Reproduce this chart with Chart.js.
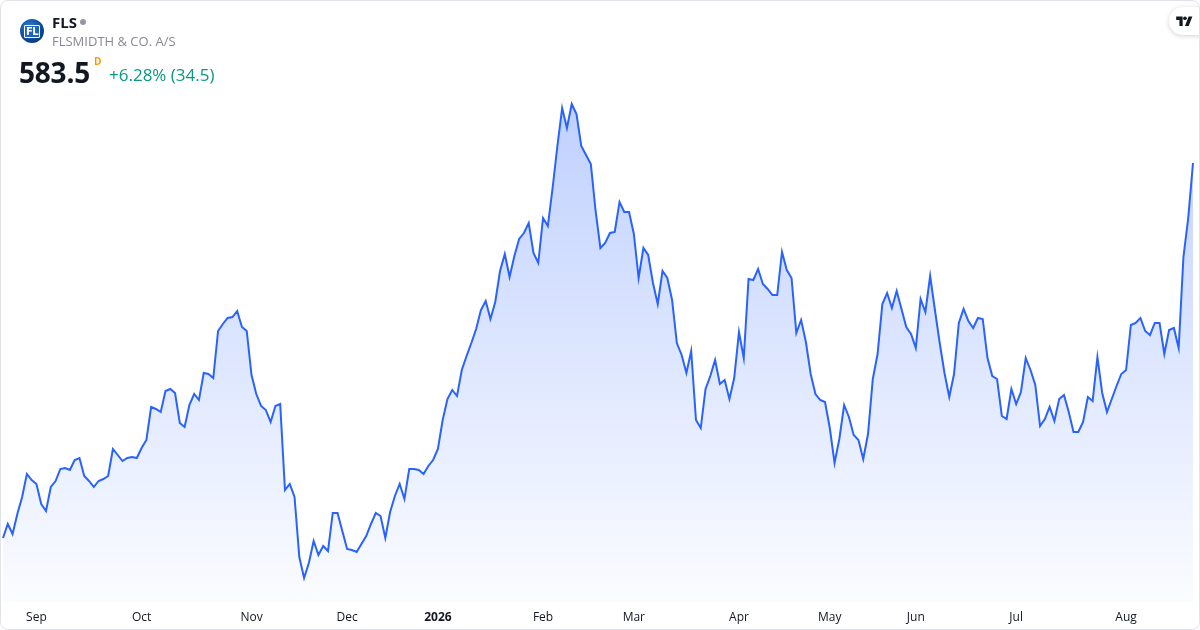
<!DOCTYPE html>
<html>
<head>
<meta charset="utf-8">
<script src="https://cdn.jsdelivr.net/npm/chart.js@4.4.1/dist/chart.umd.min.js"></script>
<style>
  html, body { margin: 0; padding: 0; background: #ffffff; }
  body { width: 1200px; height: 630px; position: relative; overflow: hidden; font-family: "Open Sans", "Noto Sans", sans-serif; }
  #card { position: absolute; left: 0; top: 0; width: 1200px; height: 630px; box-sizing: border-box; border: 1px solid #e0e3eb; border-radius: 8px; overflow: hidden; }
  #chartWrap { position: absolute; left: 0; top: 0; width: 1200px; height: 630px; }
  #logo { position: absolute; left: 19px; top: 18px; width: 24px; height: 24px; border-radius: 50%;
          background: radial-gradient(circle at 40% 35%, #2f7fd6 0%, #0f4a9a 55%, #08275a 100%);
          color: #fff; font: 700 10px "DejaVu Sans", sans-serif; display: flex; align-items: center; justify-content: center; letter-spacing: -0.5px; }
  #logo span { background: #1d63b8; padding: 0 1px; line-height: 11px; border: 1px solid #fff; border-radius: 1px; }
  #sym { position: absolute; left: 51px; top: 11px; font: 700 15px "Open Sans", sans-serif; color: #131722; }
  #dot { position: absolute; left: 79px; top: 18px; width: 6px; height: 6px; border-radius: 50%; background: #9598a1; }
  #name { position: absolute; left: 51px; top: 31px; font: 400 13px "Open Sans", sans-serif; color: #868993; letter-spacing: 0px; }
  #price { position: absolute; left: 18px; top: 52px; font: 700 28px "Open Sans", sans-serif; color: #131722; letter-spacing: -0.2px; }
  #dmark { position: absolute; left: 93px; top: 53px; font: 700 10px "Open Sans", sans-serif; color: #ff9800; }
  #chg { position: absolute; left: 108px; top: 62px; font: 400 17px "Open Sans", sans-serif; color: #089981; }
  #tv { position: absolute; left: 1168px; top: 6px; width: 44px; height: 28px; border-radius: 14px; background: #fff;
        box-shadow: 0 1px 5px rgba(0,0,0,0.18); }
  #tv svg { position: absolute; left: 7px; top: 8px; }
</style>
</head>
<body>
<div id="card">
  <div id="chartWrap"><canvas id="c" width="1200" height="630"></canvas></div>
  <div id="logo"><span>FL</span></div>
  <div id="sym">FLS</div>
  <div id="dot"></div>
  <div id="name">FLSMIDTH &amp; CO. A/S</div>
  <div id="price">583.5</div>
  <div id="dmark">D</div>
  <div id="chg">+6.28% (34.5)</div>
  <div id="tv"><svg width="17" height="12" viewBox="0 0 36 26"><path d="M14 24H7V11H0V3h14v21z" fill="#131722"/><path d="M27 24h-8l8-21h8l-8 21z" fill="#131722"/><circle cx="19" cy="7" r="4" fill="#131722"/></svg></div>
</div>
<script>
// Daily closing prices (approx. Sep 2025 – Aug 2026)
const prices = [
  396, 403, 398, 408, 416.5, 428, 425, 423, 413, 409.5, 421.5, 424.5, 430.5, 431, 430, 435, 436, 427, 424.5, 421.5,
  424.5, 425.5, 427, 440.5, 437.5, 434.5, 436, 436.5, 436, 441, 445, 461.5, 460.5, 459, 469.5, 470.5, 468.5, 453.5, 451.5, 462.5,
  468, 465,
  478.5, 478, 476, 499.5, 503, 506, 506.5, 509.5, 501.5, 499.5, 477.5, 468, 462, 460, 454, 462, 463, 420, 423, 416.5,
  386.5, 376, 383.5, 394.5, 387.5, 392, 389.5, 408.5, 408.5, 399.5, 390.5, 390, 389, 393, 397, 403, 408.5, 407, 396, 409,
  417, 423,
  415.5, 430.5, 430.5, 430, 428, 432, 435, 440.5, 455, 465.5, 470, 467, 480, 487, 493.5, 500.5, 510, 514.5, 505.5, 514,
  529.5, 538, 526.5, 537, 545.5, 548.5, 553.5, 538.5, 533.5, 556, 552, 571, 592, 611, 601, 613, 608, 592, 587.5, 583,
  559.5, 541,
  543.5, 548.5, 549, 564, 559, 559, 548, 526, 541, 537.5, 523.5, 513, 529.5, 526, 515, 493.5, 487.5, 478.5, 489.5, 455,
  451, 470.5, 477, 485, 473, 475, 465.5, 476, 499, 486, 525.5, 525, 530.5, 523, 520.5, 517.5, 517.5, 539, 530, 526,
  498.5, 505,
  494, 478, 468, 465, 464, 451, 433.5, 445.5, 462.5, 456.5, 447.5, 445, 435.5, 448, 475.5, 488, 513, 518.5, 511, 519.5,
  510.5, 501.5, 498, 491, 515.5, 509, 527, 510, 493.5, 478.5, 466.5, 478, 503.5, 510.5, 504.5, 501, 506, 505.5, 486, 477,
  475.5, 457,
  455.5, 470.5, 463, 469, 486, 480, 472.5, 452, 455.5, 461.5, 454.5, 465.5, 467.5, 459, 449, 449, 454, 466.5, 464.5, 486.5,
  468.5, 459, 465.5, 472, 478, 480, 502.5, 503.5, 506, 499.5, 497.5, 503.5, 503.5, 488, 500, 501, 491, 536.5, 556, 583.5
];

// Month tick labels and the trading-day index where each month starts
const tickLabels = ["Sep", "Oct", "Nov", "Dec", "2026", "Feb", "Mar", "Apr", "May", "Jun", "Jul", "Aug"];
const tickIndex  = [7, 29, 52, 72, 91, 113, 132, 154, 173, 191, 212, 235];

const yMin = 364;
const yMax = 619.5;

const categories = prices.map((_, i) => i);
const tickMap = {};
tickIndex.forEach((idx, k) => { tickMap[idx] = tickLabels[k]; });

const ctx = document.getElementById('c').getContext('2d');
new Chart(ctx, {
  type: 'line',
  data: {
    labels: categories,
    datasets: [{
      data: prices,
      borderColor: '#2962ff',
      borderWidth: 2,
      pointRadius: 0,
      tension: 0,
      fill: 'start',
      backgroundColor: (context) => {
        const chart = context.chart;
        const area = chart.chartArea;
        if (!area) return 'rgba(41,98,255,0.1)';
        const g = chart.ctx.createLinearGradient(0, area.top, 0, area.bottom);
        g.addColorStop(0, 'rgba(41,98,255,0.30)');
        g.addColorStop(1, 'rgba(41,98,255,0.02)');
        return g;
      }
    }]
  },
  options: {
    responsive: false,
    animation: false,
    devicePixelRatio: 1,
    layout: { padding: { left: 2, right: 8, top: 90, bottom: 0 } },
    plugins: { legend: { display: false }, tooltip: { enabled: false } },
    scales: {
      y: { display: false, min: yMin, max: yMax },
      x: {
        offset: false,
        grid: { display: false, drawTicks: false },
        border: { display: false },
        afterFit: (scale) => { scale.height = 29; scale.paddingLeft = 0; scale.paddingRight = 0; },
        ticks: {
          autoSkip: false,
          maxRotation: 0,
          minRotation: 0,
          padding: 8,
          color: '#131722',
          font: (c) => ({
            family: '"Open Sans", sans-serif',
            size: 12,
            weight: (c.tick && c.tick.label === '2026') ? 'bold' : 'normal'
          }),
          callback: (value, index) => tickMap[index] || ''
        }
      }
    }
  }
});
</script>
</body>
</html>
